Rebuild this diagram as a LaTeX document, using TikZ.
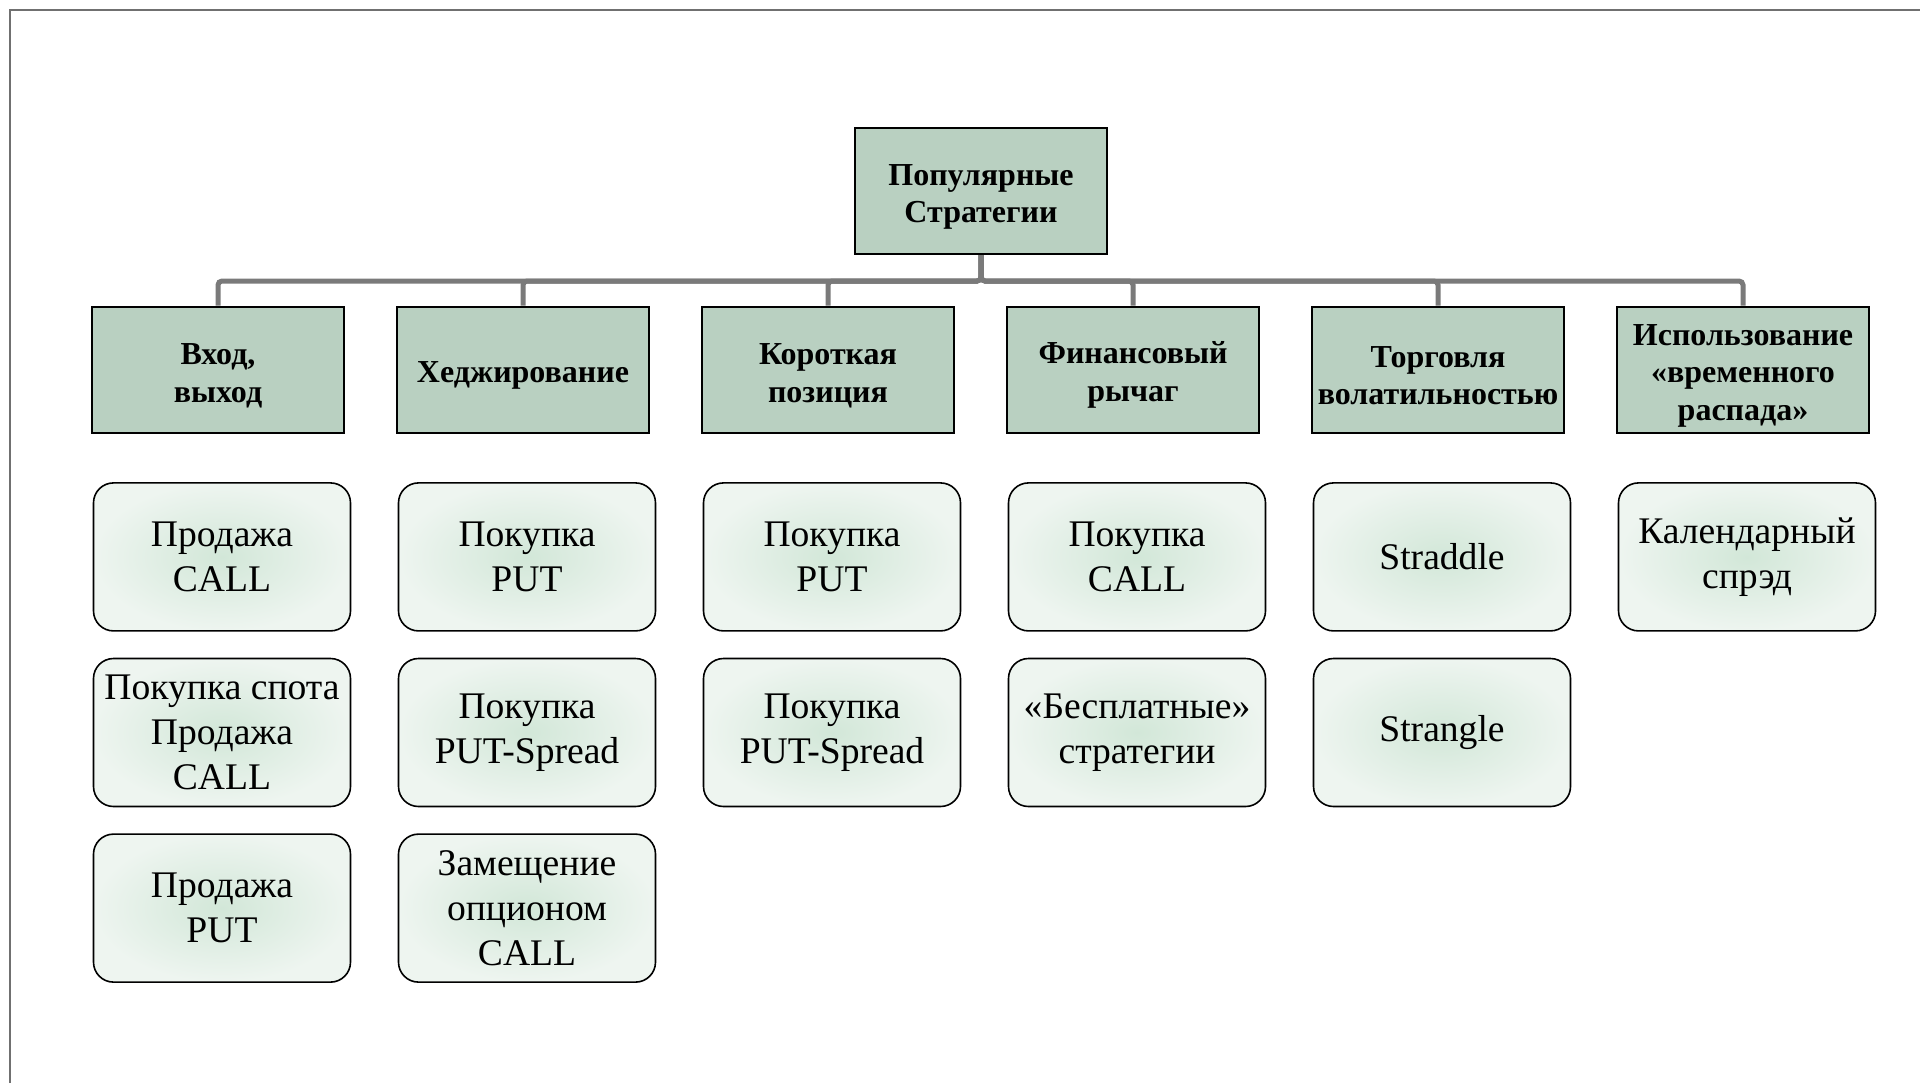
\documentclass[tikz,border=0pt]{standalone}
\usepackage{fontspec}
\setmainfont{Liberation Serif}
\usetikzlibrary{positioning}

\definecolor{catgreen}{RGB}{185,208,193}
\definecolor{leafin}{RGB}{210,231,216}
\definecolor{leafout}{RGB}{238,245,240}
\definecolor{linkgray}{RGB}{122,122,122}
\definecolor{framegray}{RGB}{112,112,112}

\newcommand{\headgap}{\rule{0pt}{16.5pt}} % lowers the lines of a heading a little

\begin{document}
\begin{tikzpicture}[
    x=0.5pt, y=-0.5pt, % one unit is one pixel of the sketch, y grows downwards
    node distance=24.3pt, % gap between a heading and its first strategy
    every node/.style={font={\fontsize{18.8}{22.4}\selectfont}}, % text of the strategy boxes
    head/.style={draw, line width=1pt, fill=catgreen, minimum width=126pt, minimum height=63pt, inner sep=1pt, align=center, font={\fontsize{16}{18.8}\selectfont\bfseries}}, % green headings
    leaf/.style={draw, line width=0.8pt, rounded corners=10pt, shading=radial, inner color=leafin, outer color=leafout, minimum width=128.5pt, minimum height=74pt, inner sep=1pt, align=center}, % rounded strategy boxes
    link/.style={draw=linkgray, line width=2.5pt, rounded corners=2pt}, % tree connectors
  ]

  \useasboundingbox (0,0) rectangle (1920,1083);
  \draw[framegray, line width=1pt] (10,1083) -- (10,10) -- (1920,10);

  \node[head] (root) at (981,191) {\headgap Популярные\\Стратегии};

  \node[head] (c1) at (218,369.5) {\headgap Вход,\\выход};
  \node[head, right=25.5pt of c1] (c2) {\headgap Хеджирование};
  \node[head, right=25.5pt of c2] (c3) {\headgap Короткая\\позиция};
  \node[head, right=25.5pt of c3] (c4) {\headgap Финансовый\\рычаг};
  \node[head, right=25.5pt of c4] (c5) {\headgap Торговля\\волатильностью};
  \node[head, right=25.5pt of c5] (c6) {\headgap Использование\\«временного\\распада»};

  \draw[link] (root.south) -- ++(0,-13pt) -| (c1.north);
  \draw[link] (root.south) -- ++(0,-13pt) -| (c2.north);
  \draw[link] (root.south) -- ++(0,-13pt) -| (c3.north);
  \draw[link] (root.south) -- ++(0,-13pt) -| (c4.north);
  \draw[link] (root.south) -- ++(0,-13pt) -| (c5.north);
  \draw[link] (root.south) -- ++(0,-13pt) -| (c6.north);

  \node[leaf, below=of c1, xshift=2pt] (l1a) {Продажа\\CALL};
  \node[leaf, below=13pt of l1a] (l1b) {Покупка спота\\Продажа\\CALL};
  \node[leaf, below=13pt of l1b] (l1c) {Продажа\\PUT};

  \node[leaf, below=of c2, xshift=2pt] (l2a) {Покупка\\PUT};
  \node[leaf, below=13pt of l2a] (l2b) {Покупка\\PUT-Spread};
  \node[leaf, below=13pt of l2b] (l2c) {Замещение\\опционом\\CALL};

  \node[leaf, below=of c3, xshift=2pt] (l3a) {Покупка\\PUT};
  \node[leaf, below=13pt of l3a] (l3b) {Покупка\\PUT-Spread};

  \node[leaf, below=of c4, xshift=2pt] (l4a) {Покупка\\CALL};
  \node[leaf, below=13pt of l4a] (l4b) {«Бесплатные»\\стратегии};

  \node[leaf, below=of c5, xshift=2pt] (l5a) {Straddle};
  \node[leaf, below=13pt of l5a] (l5b) {Strangle};

  \node[leaf, below=of c6, xshift=2pt] (l6a) {Календарный\\спрэд};

\end{tikzpicture}
\end{document}
